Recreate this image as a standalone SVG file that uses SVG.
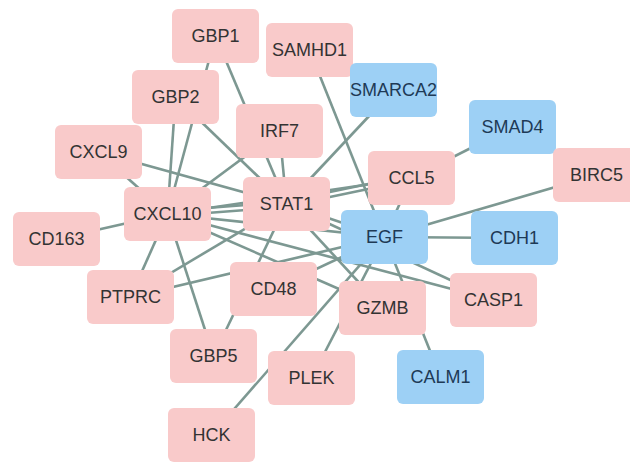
<svg xmlns="http://www.w3.org/2000/svg" width="630" height="463" viewBox="0 0 630 463">
<style>
.e{stroke:#7d9892;stroke-width:2.6;fill:none}
.p rect{fill:#f9caca}
.b rect{fill:#9dd0f5}
text{font-family:"Liberation Sans",Arial,sans-serif;font-size:18px;text-anchor:middle}
.p text{fill:#333333}
.b text{fill:#1e3a56}
</style>
<rect width="630" height="463" fill="#ffffff"/>
<g id="edges">
<line class="e" x1="215.5" y1="36" x2="286.5" y2="204"/>
<line class="e" x1="215.5" y1="36" x2="167.5" y2="214"/>
<line class="e" x1="175.5" y1="97" x2="167.5" y2="214"/>
<line class="e" x1="175.5" y1="97" x2="286.5" y2="204"/>
<line class="e" x1="279.5" y1="131" x2="286.5" y2="204"/>
<line class="e" x1="279.5" y1="131" x2="167.5" y2="214"/>
<line class="e" x1="98.5" y1="152" x2="286.5" y2="204"/>
<line class="e" x1="98.5" y1="152" x2="167.5" y2="214"/>
<line class="e" x1="309.5" y1="50" x2="440.5" y2="377"/>
<line class="e" x1="393.5" y1="90" x2="286.5" y2="204"/>
<line class="e" x1="512.5" y1="127" x2="411.5" y2="178"/>
<line class="e" x1="596.5" y1="175" x2="384.5" y2="237"/>
<line class="e" x1="384.5" y1="237" x2="514.5" y2="238"/>
<line class="e" x1="411.5" y1="178" x2="384.5" y2="237"/>
<line class="e" x1="286.5" y1="201" x2="411.5" y2="175"/>
<line class="e" x1="286.5" y1="206" x2="411.5" y2="180"/>
<line class="e" x1="167.5" y1="214" x2="411.5" y2="178"/>
<line class="e" x1="167.5" y1="211" x2="286.5" y2="202"/>
<line class="e" x1="167.5" y1="216" x2="286.5" y2="207"/>
<line class="e" x1="286.5" y1="204" x2="384.5" y2="237"/>
<line class="e" x1="167.5" y1="214" x2="384.5" y2="237"/>
<line class="e" x1="167.5" y1="214" x2="382.5" y2="308"/>
<line class="e" x1="167.5" y1="214" x2="493.5" y2="300"/>
<line class="e" x1="286.5" y1="204" x2="493.5" y2="300"/>
<line class="e" x1="286.5" y1="204" x2="382.5" y2="308"/>
<line class="e" x1="286.5" y1="204" x2="213.5" y2="356"/>
<line class="e" x1="167.5" y1="214" x2="213.5" y2="356"/>
<line class="e" x1="167.5" y1="214" x2="130.5" y2="297"/>
<line class="e" x1="130.5" y1="297" x2="286.5" y2="204"/>
<line class="e" x1="130.5" y1="297" x2="384.5" y2="237"/>
<line class="e" x1="56.5" y1="239" x2="167.5" y2="214"/>
<line class="e" x1="384.5" y1="237" x2="211.5" y2="435"/>
<line class="e" x1="384.5" y1="237" x2="311.5" y2="378"/>
<line class="e" x1="273.5" y1="289" x2="384.5" y2="237"/>
</g>
<g id="GBP1" class="p"><rect x="172" y="9" width="87" height="54" rx="6"/><text x="215.5" y="42">GBP1</text></g>
<g id="SAMHD1" class="p"><rect x="266" y="23" width="87" height="54" rx="6"/><text x="309.5" y="56">SAMHD1</text></g>
<g id="GBP2" class="p"><rect x="132" y="70" width="87" height="54" rx="6"/><text x="175.5" y="103">GBP2</text></g>
<g id="IRF7" class="p"><rect x="236" y="104" width="87" height="54" rx="6"/><text x="279.5" y="137">IRF7</text></g>
<g id="SMARCA2" class="b"><rect x="350" y="63" width="87" height="54" rx="6"/><text x="393.5" y="96">SMARCA2</text></g>
<g id="SMAD4" class="b"><rect x="469" y="100" width="87" height="54" rx="6"/><text x="512.5" y="133">SMAD4</text></g>
<g id="CXCL9" class="p"><rect x="55" y="125" width="87" height="54" rx="6"/><text x="98.5" y="158">CXCL9</text></g>
<g id="STAT1" class="p"><rect x="243" y="177" width="87" height="54" rx="6"/><text x="286.5" y="210">STAT1</text></g>
<g id="CCL5" class="p"><rect x="368" y="151" width="87" height="54" rx="6"/><text x="411.5" y="184">CCL5</text></g>
<g id="BIRC5" class="p"><rect x="553" y="148" width="87" height="54" rx="6"/><text x="596.5" y="181">BIRC5</text></g>
<g id="CXCL10" class="p"><rect x="124" y="187" width="87" height="54" rx="6"/><text x="167.5" y="220">CXCL10</text></g>
<g id="CD163" class="p"><rect x="13" y="212" width="87" height="54" rx="6"/><text x="56.5" y="245">CD163</text></g>
<g id="EGF" class="b"><rect x="341" y="210" width="87" height="54" rx="6"/><text x="384.5" y="243">EGF</text></g>
<g id="CDH1" class="b"><rect x="471" y="211" width="87" height="54" rx="6"/><text x="514.5" y="244">CDH1</text></g>
<g id="PTPRC" class="p"><rect x="87" y="270" width="87" height="54" rx="6"/><text x="130.5" y="303">PTPRC</text></g>
<g id="CD48" class="p"><rect x="230" y="262" width="87" height="54" rx="6"/><text x="273.5" y="295">CD48</text></g>
<g id="CASP1" class="p"><rect x="450" y="273" width="87" height="54" rx="6"/><text x="493.5" y="306">CASP1</text></g>
<g id="GZMB" class="p"><rect x="339" y="281" width="87" height="54" rx="6"/><text x="382.5" y="314">GZMB</text></g>
<g id="GBP5" class="p"><rect x="170" y="329" width="87" height="54" rx="6"/><text x="213.5" y="362">GBP5</text></g>
<g id="PLEK" class="p"><rect x="268" y="351" width="87" height="54" rx="6"/><text x="311.5" y="384">PLEK</text></g>
<g id="CALM1" class="b"><rect x="397" y="350" width="87" height="54" rx="6"/><text x="440.5" y="383">CALM1</text></g>
<g id="HCK" class="p"><rect x="168" y="408" width="87" height="54" rx="6"/><text x="211.5" y="441">HCK</text></g>
</svg>
